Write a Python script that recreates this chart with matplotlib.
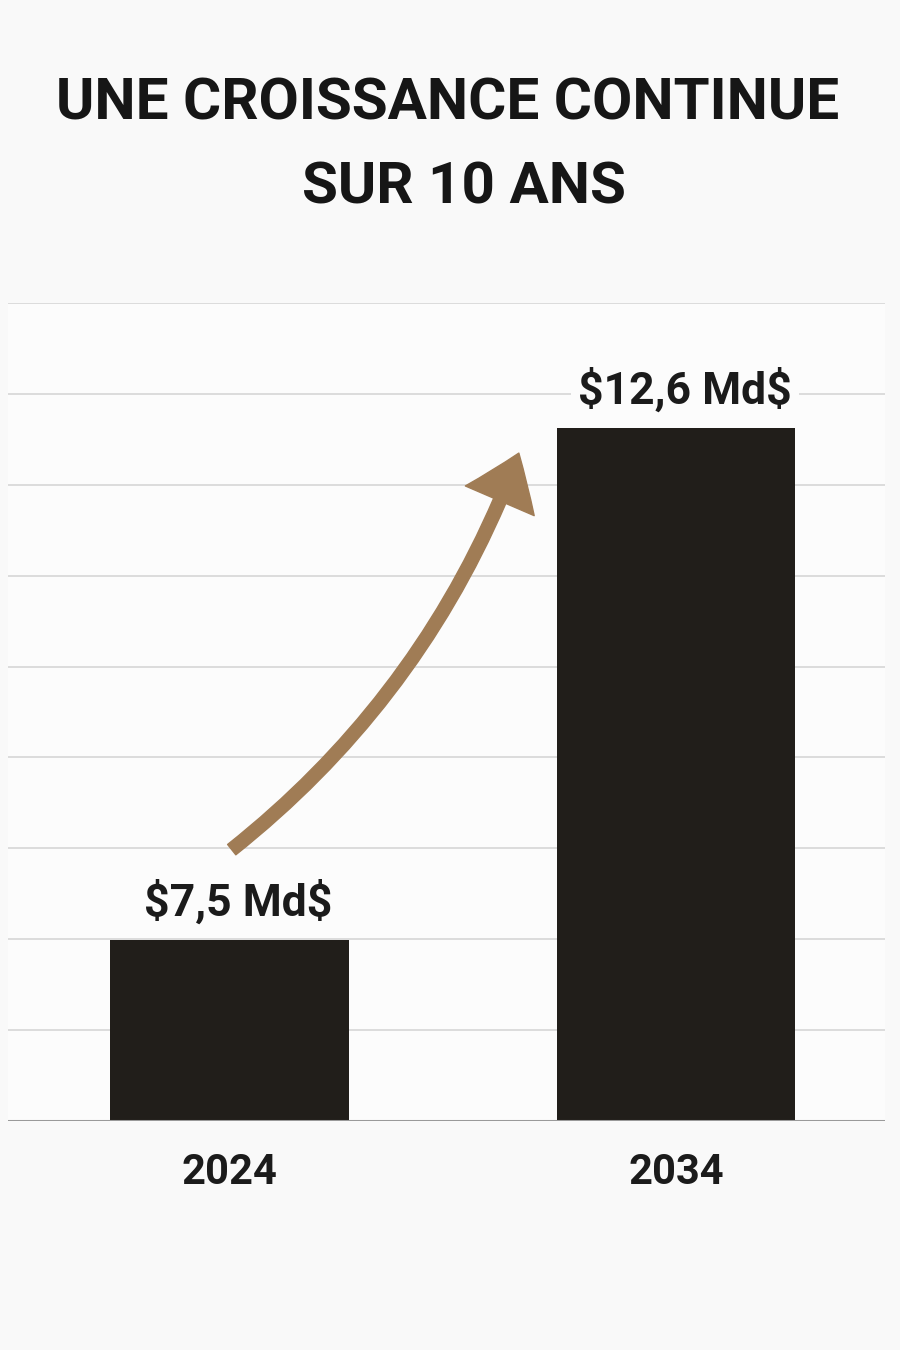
import matplotlib.pyplot as plt
import numpy as np
from matplotlib.patches import FancyArrowPatch

# donnees
annees = ['2024', '2034']
valeurs = [7.5, 12.6]
etiquettes = ['\\$7,5 Md\\$', '\\$12,6 Md\\$']

plt.rcParams['font.family'] = ['Roboto', 'DejaVu Sans']

fig = plt.figure(figsize=(9, 13.5), dpi=100)
fig.patch.set_facecolor('#f9f9f9')

ax = fig.add_axes([8/900, 229/1350, 877/900, 818/1350])
ax.set_facecolor('#fcfcfc')

# echelle : la base de l'axe ne part pas de zero
ylo, yhi = 5.697, 13.845
ax.set_ylim(ylo, yhi)
ax.set_xlim(-0.496, 1.468)

x = np.arange(len(annees))
ax.bar(x, valeurs, width=0.535, color='#211e1a', zorder=3)

# grille horizontale
for g in np.linspace(ylo, yhi, 10)[1:]:
    ax.axhline(g, color='#d9d9d9', lw=1.3, zorder=1)
ax.axhline(ylo, color='#9a9a9a', lw=2.2, zorder=4)

for s in ax.spines.values():
    s.set_visible(False)
ax.set_yticks([])
ax.set_xticks(x)
ax.set_xticklabels(annees, fontsize=30, fontweight='bold', color='#1b1b1b')
ax.tick_params(axis='x', length=0, pad=22)

# valeurs au-dessus des barres
for xi, v, lab in zip(x, valeurs, etiquettes):
    ax.annotate(lab, (xi, v), xytext=(9, 24), textcoords='offset pixels',
                ha='center', va='baseline', fontsize=32, fontweight='bold',
                color='#1b1b1b', zorder=5,
                bbox=dict(boxstyle='square,pad=0.15', fc='#fcfcfc', ec='none'))

# fleche de croissance
fleche = FancyArrowPatch((0.005, 8.4), (0.648, 12.35),
                         connectionstyle='arc3,rad=0.14',
                         arrowstyle='simple,head_length=37,head_width=54,tail_width=9.5',
                         mutation_scale=1, color='#a07c55', shrinkA=0, shrinkB=0,
                         zorder=4)
ax.add_patch(fleche)

# titre
fig.text(0.497, 1 - 120/1350, 'UNE CROISSANCE CONTINUE', ha='center', va='baseline',
         fontsize=42, fontweight='bold', color='#161616')
fig.text(0.516, 1 - 203/1350, 'SUR 10 ANS', ha='center', va='baseline',
         fontsize=42, fontweight='bold', color='#161616')

fig.savefig('out.png', dpi=100, facecolor=fig.get_facecolor())
